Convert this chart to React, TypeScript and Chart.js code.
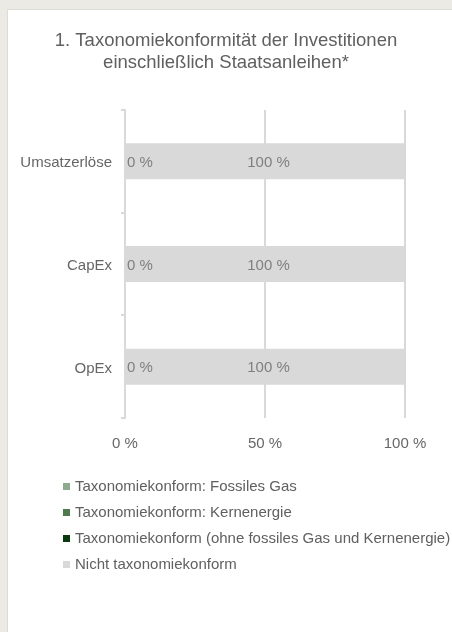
import React, { useEffect, useRef } from "react";
import { Chart, registerables } from "chart.js";

Chart.register(...registerables);

const titleLines = ["1. Taxonomiekonformität der Investitionen", "einschließlich Staatsanleihen*"];
const categories = ["Umsatzerlöse", "CapEx", "OpEx"];
const seriesNames = [
  "Taxonomiekonform: Fossiles Gas",
  "Taxonomiekonform: Kernenergie",
  "Taxonomiekonform (ohne fossiles Gas und Kernenergie)",
  "Nicht taxonomiekonform",
];
const fossilGasValues = [0, 0, 0];
const nuclearValues = [0, 0, 0];
const alignedValues = [0, 0, 0];
const notAlignedValues = [100, 100, 100];
const seriesColors = ["#8fab8d", "#4f7a50", "#0b3a12", "#d9d9d9"];
const xTickValues = [0, 50, 100];

const FONT = "'Liberation Sans', Arial, sans-serif";

const titlePlugin = {
  id: "customTitle",
  afterDraw(chart: any) {
    const ctx = chart.ctx;
    ctx.save();
    ctx.font = `18.5px ${FONT}`;
    ctx.fillStyle = "#606060";
    ctx.textAlign = "center";
    ctx.textBaseline = "middle";
    titleLines.forEach((line, i) => {
      ctx.fillText(line, 218, 31 + i * 22.2);
    });
    ctx.restore();
  },
};

const dataLabelPlugin = {
  id: "dataLabels",
  afterDatasetsDraw(chart: any) {
    const ctx = chart.ctx;
    ctx.save();
    ctx.font = `15px ${FONT}`;
    ctx.fillStyle = "#7f7f7f";
    ctx.textBaseline = "middle";
    const seen = new Set<string>();
    chart.data.datasets.forEach((ds: any, di: number) => {
      const meta = chart.getDatasetMeta(di);
      if (meta.hidden) return;
      meta.data.forEach((el: any, i: number) => {
        const v = ds.data[i];
        const text = `${v} %`;
        const { x, y, base } = el.getProps(["x", "y", "base"], true);
        let tx: number;
        let align: CanvasTextAlign;
        if (v === 0) {
          tx = Math.min(x, base) + 2;
          align = "left";
        } else {
          tx = (x + base) / 2 + 3;
          align = "center";
        }
        const key = `${Math.round(tx)}|${Math.round(y)}|${text}`;
        if (seen.has(key)) return;
        seen.add(key);
        ctx.textAlign = align;
        ctx.fillText(text, tx, y + 1.5);
      });
    });
    ctx.restore();
  },
};

const customLegendPlugin = {
  id: "customLegend",
  afterDraw(chart: any) {
    const ctx = chart.ctx;
    const xScale = chart.scales.x;
    const startY = xScale.bottom + 36;
    const rowGap = 26;
    ctx.save();
    ctx.font = `15px ${FONT}`;
    ctx.textBaseline = "middle";
    ctx.textAlign = "left";
    chart.data.datasets.forEach((ds: any, i: number) => {
      const cy = startY + i * rowGap;
      ctx.fillStyle = ds.backgroundColor;
      ctx.fillRect(55, cy - 4, 7, 7);
      ctx.fillStyle = "#606060";
      ctx.fillText(ds.label, 67, cy);
    });
    ctx.restore();
  },
};

function ChartCanvas() {
  const ref = useRef<HTMLCanvasElement | null>(null);
  useEffect(() => {
    if (!ref.current) return;
    const valueSets = [fossilGasValues, nuclearValues, alignedValues, notAlignedValues];
    const chart = new Chart(ref.current, {
      type: "bar",
      data: {
        labels: categories,
        datasets: seriesNames.map((name, i) => ({
          label: name,
          data: valueSets[i],
          backgroundColor: seriesColors[i],
          borderWidth: 0,
          barPercentage: 0.35,
          categoryPercentage: 1,
        })),
      },
      options: {
        indexAxis: "y",
        responsive: false,
        animation: false,
        layout: { padding: { left: 5, right: 47, top: 100, bottom: 181 } },
        plugins: {
          legend: { display: false },
          tooltip: { enabled: false },
          title: { display: false },
        },
        scales: {
          x: {
            stacked: true,
            min: 0,
            max: 100,
            afterBuildTicks: (scale: any) => {
              scale.ticks = xTickValues.map((v) => ({ value: v }));
            },
            afterFit: (scale: any) => {
              scale.height = 33;
            },
            ticks: {
              callback: (v: any) => `${v} %`,
              color: "#666666",
              font: { family: FONT, size: 15 },
              padding: 17,
              maxRotation: 0,
            },
            grid: { color: "#d9d9d9", lineWidth: 2, drawTicks: false },
            border: { display: false },
          },
          y: {
            stacked: true,
            afterFit: (scale: any) => {
              scale.width = 112;
            },
            ticks: {
              color: "#666666",
              font: { family: FONT, size: 15 },
              padding: 9,
              labelOffset: 2,
            },
            grid: {
              display: true,
              drawOnChartArea: false,
              drawTicks: true,
              tickLength: 4,
              color: "#d9d9d9",
              lineWidth: 2,
            },
            border: { display: true, color: "#d9d9d9", width: 2 },
          },
        },
      } as any,
      plugins: [titlePlugin, dataLabelPlugin, customLegendPlugin],
    });
    return () => chart.destroy();
  }, []);
  return (
    <canvas
      ref={ref}
      width={444}
      height={622}
      style={{ width: 444, height: 622, display: "block" }}
    />
  );
}

export default function App() {
  return (
    <div
      style={{
        position: "absolute",
        left: 0,
        top: 0,
        width: 452,
        height: 632,
        overflow: "hidden",
        background: "#eceae5",
      }}
    >
      <div
        style={{
          position: "absolute",
          left: 7,
          top: 9,
          width: 460,
          height: 640,
          background: "#dddcd7",
        }}
      />
      <div
        style={{
          position: "absolute",
          left: 8,
          top: 10,
          width: 444,
          height: 622,
          background: "#ffffff",
        }}
      >
        <ChartCanvas />
      </div>
    </div>
  );
}
